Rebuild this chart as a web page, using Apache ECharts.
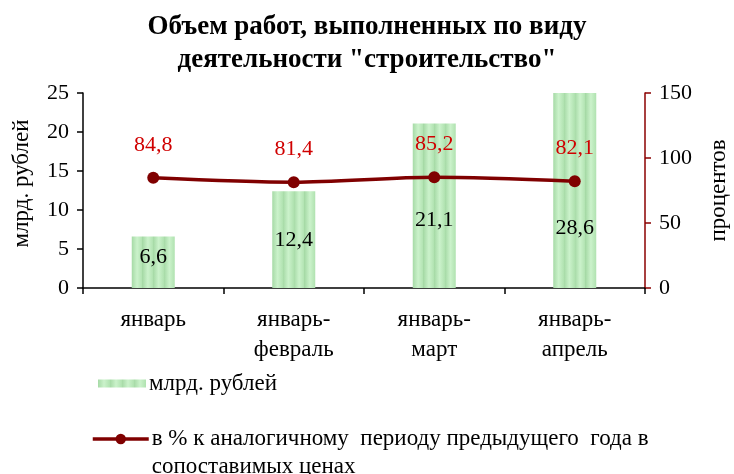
<!DOCTYPE html>
<html><head><meta charset="utf-8">
<script src="https://cdn.jsdelivr.net/npm/echarts@6/dist/echarts.min.js"></script>
<style>html,body{margin:0;padding:0;background:#fff}#c{width:734px;height:474px}</style>
</head><body><div id="c"></div>
<script>
const categories = ['январь', 'январь-\nфевраль', 'январь-\nмарт', 'январь-\nапрель'];
const volume = [6.6, 12.4, 21.1, 28.6];
const percent = [84.8, 81.4, 85.2, 82.1];
const leftTicks = {min: 0, max: 25, interval: 5};
const rightTicks = {min: 0, max: 150, interval: 50};
const barLabelLift = [20, 37, 57, 49];
const barName = 'млрд. рублей';
const lineName = 'в % к аналогичному  периоду предыдущего  года в\nсопоставимых ценах';

const F = '"Liberation Serif","Times New Roman",serif';
const stripes = {
  type: 'linear', x: 0, y: 0, x2: 1, y2: 0,
  colorStops: (() => {
    const s = [];
    const n = 4;
    for (let i = 0; i < n; i++) {
      s.push({offset: i / n, color: '#a6daa6'});
      s.push({offset: (i + 0.5) / n, color: '#cbf2cb'});
      s.push({offset: (i + 1) / n - 0.001, color: '#b0e2b0'});
    }
    return s;
  })()
};
const chart = echarts.init(document.getElementById('c'));
chart.setOption({
  animation: false,
  title: {
    text: 'Объем работ, выполненных по виду\nдеятельности "строительство"',
    left: 'center', top: 6,
    textStyle: {fontFamily: F, fontSize: 27, fontWeight: 'bold', color: '#000', lineHeight: 33}
  },
  legend: [
    {
      left: 93, top: 367, itemWidth: 48, itemHeight: 8, itemGap: 0,
      textStyle: {fontFamily: F, fontSize: 23, color: '#000', padding: [0, 0, 0, -2]},
      data: [{name: barName, icon: 'rect'}]
    },
    {
      left: 86, top: 392, itemWidth: 56, itemHeight: 13,
      lineStyle: {width: 3.5},
      formatter: n => '\n' + n,
      textStyle: {fontFamily: F, fontSize: 23, color: '#000', lineHeight: 28, padding: [0, 0, 0, -2]},
      data: [{name: lineName}]
    }
  ],
  grid: {left: 83, right: 89, top: 93, bottom: 186, containLabel: false, outerBoundsMode: 'none'},
  xAxis: {
    type: 'category', data: categories,
    axisLine: {lineStyle: {color: '#000', width: 1.5}},
    axisTick: {show: true, length: 6, lineStyle: {color: '#000', width: 1.5}},
    axisLabel: {fontFamily: F, fontSize: 23, color: '#000', margin: 17, lineHeight: 30}
  },
  yAxis: [
    {
      type: 'value', min: leftTicks.min, max: leftTicks.max, interval: leftTicks.interval,
      name: 'млрд. рублей', nameLocation: 'middle', nameGap: 50, nameRotate: 90,
      nameTextStyle: {fontFamily: F, fontSize: 23, color: '#000', padding: [0, 0, 0, 14]},
      axisLine: {show: true, lineStyle: {color: '#000', width: 1.5}},
      axisTick: {show: true, length: 6, lineStyle: {color: '#000', width: 1.5}},
      splitLine: {show: false},
      axisLabel: {fontFamily: F, fontSize: 22, color: '#000', margin: 14}
    },
    {
      type: 'value', min: rightTicks.min, max: rightTicks.max, interval: rightTicks.interval,
      name: 'процентов', nameLocation: 'middle', nameGap: 62, nameRotate: 90,
      nameTextStyle: {fontFamily: F, fontSize: 23, color: '#000'},
      axisLine: {show: true, lineStyle: {color: '#8b0000', width: 1.5}},
      axisTick: {show: true, length: 6, lineStyle: {color: '#8b0000', width: 1.5}},
      splitLine: {show: false},
      axisLabel: {fontFamily: F, fontSize: 22, color: '#000', margin: 14}
    }
  ],
  series: [
    {
      name: barName, type: 'bar', yAxisIndex: 0, barWidth: 43, clip: true,
      itemStyle: {color: stripes},
      data: volume.map((v, i) => ({
        value: v,
        label: {show: true, position: 'insideBottom', distance: barLabelLift[i],
          formatter: String(v).replace('.', ','),
          fontFamily: F, fontSize: 22, color: '#000'}
      }))
    },
    {
      name: lineName,
      type: 'line', yAxisIndex: 1, smooth: 0.3, symbol: 'circle', symbolSize: 12,
      lineStyle: {color: '#800000', width: 3.5},
      itemStyle: {color: '#800000'},
      label: {show: true, position: 'top', distance: 16,
        formatter: p => String(p.value).replace('.', ','),
        fontFamily: F, fontSize: 22, color: '#d00000'},
      data: percent
    }
  ]
});
</script></body></html>
